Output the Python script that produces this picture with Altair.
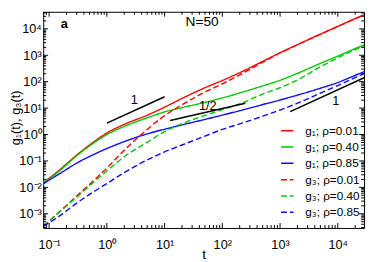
import altair as alt
import pandas as pd

# ---- data ----
t = [0.08, 0.15, 0.3, 0.6, 1, 2, 5, 10, 20, 50, 100, 200, 500, 1000, 2000, 5000, 1e4, 2e4, 28500]
g1_r001 = [0.0151, 0.0449, 0.166, 0.536, 1.14, 2.43, 5.37, 10.8, 23.2, 59.0, 111, 218, 587, 1250, 2520, 6300, 12400, 24400, 34000]
g1_r040 = [0.0145, 0.0413, 0.156, 0.489, 0.995, 2.03, 4.30, 7.17, 10.4, 16.5, 24.2, 37.5, 69.1, 113, 207, 494, 933, 1790, 2450]
g1_r085 = [0.0139, 0.0322, 0.0826, 0.178, 0.295, 0.540, 1.06, 1.59, 2.31, 3.73, 5.42, 7.98, 13.6, 20.3, 31.0, 56.6, 92.9, 174, 239]
g3_r001 = [3.40e-4, 1.18e-3, 4.70e-3, 0.0187, 0.0538, 0.255, 1.56, 5.20, 13.4, 40.6, 82.8, 182, 541, 1220, 2500, 6250, 12300, 24200, 33800]
g3_r040 = [3.40e-4, 1.14e-3, 4.26e-3, 0.0160, 0.0420, 0.144, 0.506, 1.29, 2.58, 5.28, 8.75, 14.4, 34.0, 59.0, 116, 367, 804, 1640, 2320]
g3_r085 = [3.37e-4, 8.15e-4, 2.53e-3, 6.98e-3, 0.0139, 0.0362, 0.109, 0.219, 0.401, 0.871, 1.57, 2.53, 4.94, 8.47, 15.3, 36.8, 71.4, 143, 202]

series = ["g₁; ρ=0.01", "g₁; ρ=0.40", "g₁; ρ=0.85", "g₃; ρ=0.01", "g₃; ρ=0.40", "g₃; ρ=0.85"]
values = [g1_r001, g1_r040, g1_r085, g3_r001, g3_r040, g3_r085]
colors = ["#ff0000", "#00c800", "#0a0aff", "#ff0000", "#00c800", "#0a0aff"]
dashes = [[1, 0], [1, 0], [1, 0], [6, 3], [6, 3], [6, 3]]

# guide lines (slopes 1, 1/2, 1)
slope_id = ["a", "a", "b", "b", "c", "c"]
slope_t = [1, 10, 12.5, 250, 1500, 28500]
slope_g = [2.7, 27, 3.4, 15.2, 7.4, 140.6]
slope_lbl = ["1", "1/2", "1"]
slope_lbl_t = [3.0, 56, 9200]
slope_lbl_g = [20.3, 11.7, 17.7]

x_major = [0.1, 1, 10, 100, 1000, 10000]
y_major = [1e-3, 1e-2, 1e-1, 1, 10, 100, 1000, 1e4]
x_dom = [0.079, 28500]
y_dom = [2.9e-4, 4.43e4]

x_minor = [k * 10.0 ** d for d in range(-2, 5) for k in range(2, 10)
           if x_dom[0] <= k * 10.0 ** d <= x_dom[1]]
y_minor = [k * 10.0 ** d for d in range(-4, 5) for k in range(2, 10)
           if y_dom[0] <= k * 10.0 ** d <= y_dom[1]]

W, H = 328, 221
FONT = "Liberation Sans"

rows = []
for s, vals in zip(series, values):
    for tt, gg in zip(t, vals):
        rows.append({"t": tt, "g": gg, "series": s})
df = pd.DataFrame(rows)

xs = alt.Scale(type="log", domain=x_dom, nice=False)
ys = alt.Scale(type="log", domain=y_dom, nice=False)

lab = "['10⁻³','10⁻²','10⁻¹','10⁰','10¹','10²','10³','10⁴'][round(log(datum.value)/LN10)+3]"

xaxis = alt.Axis(values=x_major, labelExpr=lab, ticks=False, tickSize=0, domain=False, grid=False,
                 labelFontSize=13, labelPadding=11, labelFont=FONT, labelColor="black",
                 title="t", titleFont=FONT, titleFontSize=14, titleFontWeight="normal",
                 titleColor="black", titleY=31, titleBaseline="alphabetic")
yaxis = alt.Axis(values=y_major, labelExpr=lab, ticks=False, tickSize=0, domain=False, grid=False,
                 labelFontSize=13, labelPadding=2, labelFont=FONT, labelColor="black",
                 title="g₁(t), g₃(t)", titleFont=FONT, titleFontSize=13, titleFontWeight="normal",
                 titleColor="black", titleX=-21, titleY=108)

leg = alt.Legend(title=None, orient="none", legendX=242, legendY=114, symbolType="stroke",
                 symbolSize=160, symbolStrokeWidth=1.5, labelFontSize=12, labelFont=FONT,
                 labelColor="black", labelOffset=11, rowPadding=2.7, padding=0)

X = lambda f: alt.X(f, scale=xs, axis=xaxis)
Y = lambda f: alt.Y(f, scale=ys, axis=yaxis)

lines = alt.Chart(df).mark_line(strokeWidth=1.4, interpolate="monotone", clip=True).encode(
    x=X("t:Q"),
    y=Y("g:Q"),
    color=alt.Color("series:N", scale=alt.Scale(domain=series, range=colors), legend=leg, sort=series),
    strokeDash=alt.StrokeDash("series:N", scale=alt.Scale(domain=series, range=dashes), legend=leg, sort=series),
)

sdf = pd.DataFrame({"id": slope_id, "t": slope_t, "g": slope_g})
slopes = alt.Chart(sdf).mark_line(color="black", strokeWidth=1.5, clip=True).encode(
    x=X("t:Q"), y=Y("g:Q"), detail="id:N",
)

ldf = pd.DataFrame({"t": slope_lbl_t, "g": slope_lbl_g, "label": slope_lbl})
slope_text = alt.Chart(ldf).mark_text(font=FONT, fontSize=13, color="black").encode(
    x=X("t:Q"), y=Y("g:Q"), text="label:N",
)

ann_a = alt.Chart(pd.DataFrame({"s": ["a"]})).mark_text(
    font=FONT, fontSize=13, fontWeight="bold", color="black").encode(
    x=alt.value(21.5), y=alt.value(13), text="s:N")
ann_n = alt.Chart(pd.DataFrame({"s": ["N=50"]})).mark_text(
    font=FONT, fontSize=14, color="black").encode(
    x=alt.value(162.5), y=alt.value(11), text="s:N")


def xticks(vals, length):
    d = pd.DataFrame({"t": vals})
    base = alt.Chart(d).mark_rule(color="black", strokeWidth=1)
    bot = base.encode(x=X("t:Q"), y=alt.value(H), y2=alt.value(H - length))
    top = base.encode(x=X("t:Q"), y=alt.value(0), y2=alt.value(length))
    return [bot, top]


def yticks(vals, length):
    d = pd.DataFrame({"g": vals})
    base = alt.Chart(d).mark_rule(color="black", strokeWidth=1)
    left = base.encode(y=Y("g:Q"), x=alt.value(0), x2=alt.value(length))
    right = base.encode(y=Y("g:Q"), x=alt.value(W), x2=alt.value(W - length))
    return [left, right]


tick_layers = xticks(x_major, 5) + xticks(x_minor, 3) + yticks(y_major, 5) + yticks(y_minor, 3)

chart = alt.layer(lines, slopes, slope_text, ann_a, ann_n, *tick_layers).properties(
    width=W, height=H,
    autosize=alt.AutoSizeParams(type="none"),
    padding={"left": 36, "top": 1, "right": 2, "bottom": 36},
).configure_view(stroke="black", strokeWidth=1)

chart.save("out.html", embed_options={"renderer": "svg", "actions": False})
